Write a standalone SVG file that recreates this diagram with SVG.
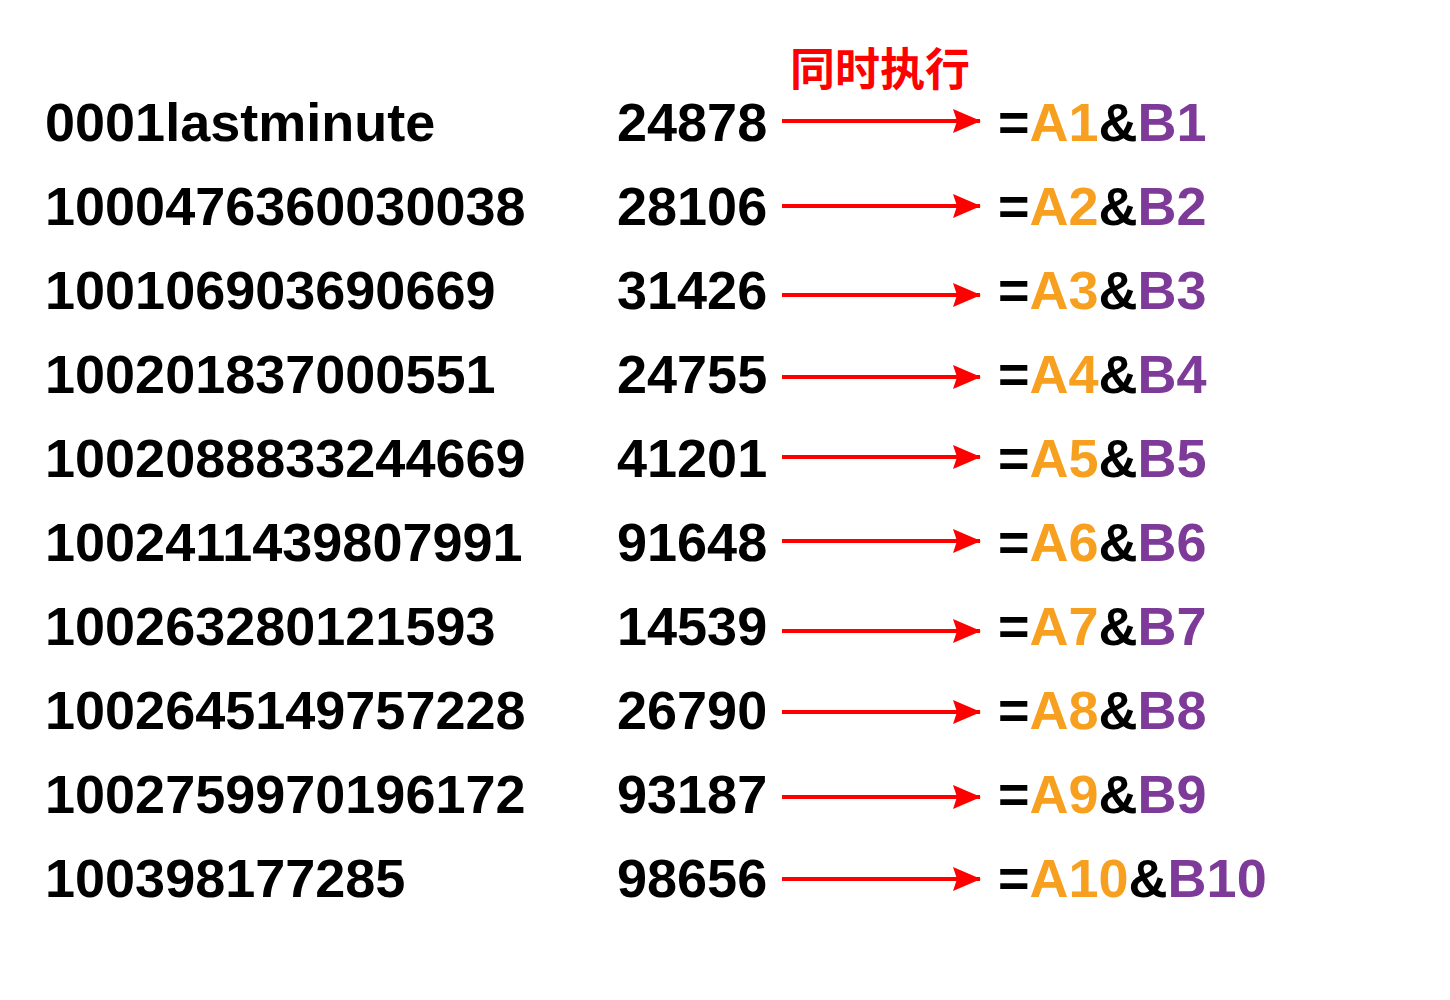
<svg xmlns="http://www.w3.org/2000/svg" width="1450" height="1000" viewBox="0 0 1450 1000">
<defs>
<style>
text{font-family:"Liberation Sans",Arial,sans-serif;font-weight:bold;font-size:54px;fill:#000}
.h{font-family:"Liberation Sans","Noto Sans CJK SC",sans-serif;font-size:45px;fill:#ff0000;font-weight:bold}
.o{fill:#F7A01F}
.p{fill:#7E3A98}
.c line{stroke:#ff0000;stroke-width:4}
</style>
<marker id="ah" viewBox="0 0 28 24" refX="27" refY="12" markerWidth="28" markerHeight="24" markerUnits="userSpaceOnUse" orient="auto">
<path d="M0,0 L28,12 L0,24 L4,12 Z" fill="#ff0000"/>
</marker>
</defs>
<rect width="1450" height="1000" fill="#fff"/>
<text class="h" x="790" y="86">同时执行</text>
<g id="colA">
<text x="45" y="141">0001lastminute</text>
<text x="45" y="225">1000476360030038</text>
<text x="45" y="309">100106903690669</text>
<text x="45" y="393">100201837000551</text>
<text x="45" y="477">1002088833244669</text>
<text x="45" y="561">1002411439807991</text>
<text x="45" y="645">100263280121593</text>
<text x="45" y="729">1002645149757228</text>
<text x="45" y="813">1002759970196172</text>
<text x="45" y="897">100398177285</text>
</g>
<g id="colB">
<text x="617" y="141">24878</text>
<text x="617" y="225">28106</text>
<text x="617" y="309">31426</text>
<text x="617" y="393">24755</text>
<text x="617" y="477">41201</text>
<text x="617" y="561">91648</text>
<text x="617" y="645">14539</text>
<text x="617" y="729">26790</text>
<text x="617" y="813">93187</text>
<text x="617" y="897">98656</text>
</g>
<g id="connectors" class="c">
<line x1="782" y1="121" x2="980" y2="121" marker-end="url(#ah)"/>
<line x1="782" y1="206" x2="980" y2="206" marker-end="url(#ah)"/>
<line x1="782" y1="295" x2="980" y2="295" marker-end="url(#ah)"/>
<line x1="782" y1="377" x2="980" y2="377" marker-end="url(#ah)"/>
<line x1="782" y1="457" x2="980" y2="457" marker-end="url(#ah)"/>
<line x1="782" y1="541" x2="980" y2="541" marker-end="url(#ah)"/>
<line x1="782" y1="631" x2="980" y2="631" marker-end="url(#ah)"/>
<line x1="782" y1="712" x2="980" y2="712" marker-end="url(#ah)"/>
<line x1="782" y1="797" x2="980" y2="797" marker-end="url(#ah)"/>
<line x1="782" y1="879" x2="980" y2="879" marker-end="url(#ah)"/>
</g>
<g id="colC">
<text x="998" y="141">=<tspan class="o">A1</tspan>&amp;<tspan class="p">B1</tspan></text>
<text x="998" y="225">=<tspan class="o">A2</tspan>&amp;<tspan class="p">B2</tspan></text>
<text x="998" y="309">=<tspan class="o">A3</tspan>&amp;<tspan class="p">B3</tspan></text>
<text x="998" y="393">=<tspan class="o">A4</tspan>&amp;<tspan class="p">B4</tspan></text>
<text x="998" y="477">=<tspan class="o">A5</tspan>&amp;<tspan class="p">B5</tspan></text>
<text x="998" y="561">=<tspan class="o">A6</tspan>&amp;<tspan class="p">B6</tspan></text>
<text x="998" y="645">=<tspan class="o">A7</tspan>&amp;<tspan class="p">B7</tspan></text>
<text x="998" y="729">=<tspan class="o">A8</tspan>&amp;<tspan class="p">B8</tspan></text>
<text x="998" y="813">=<tspan class="o">A9</tspan>&amp;<tspan class="p">B9</tspan></text>
<text x="998" y="897">=<tspan class="o">A10</tspan>&amp;<tspan class="p">B10</tspan></text>
</g>
</svg>
